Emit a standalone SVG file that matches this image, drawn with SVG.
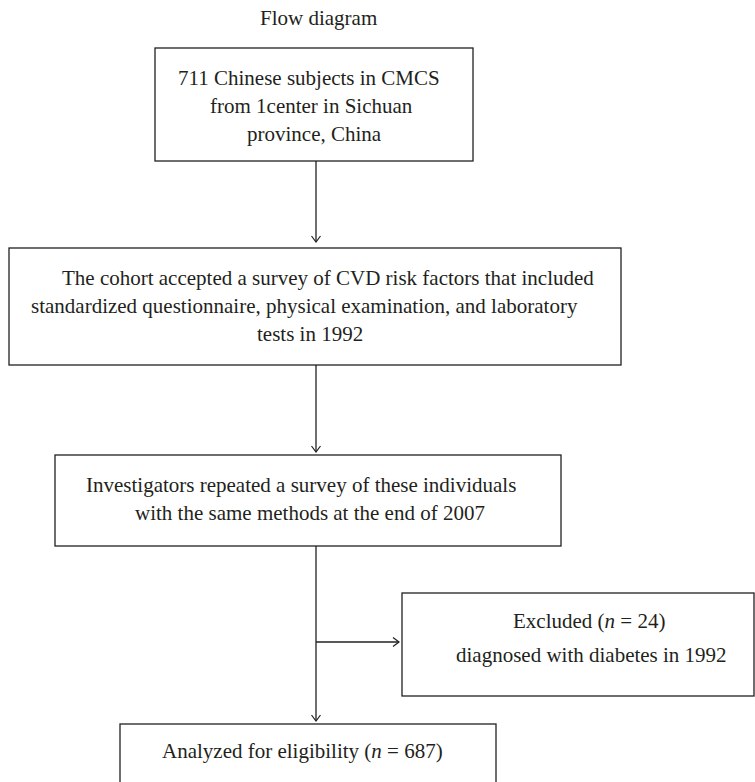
<svg xmlns="http://www.w3.org/2000/svg" width="755" height="782" viewBox="0 0 755 782">
<style>
.box { fill: #ffffff; stroke: #231f20; stroke-width: 1.3; }
.t { font-family: "Liberation Serif", "Times New Roman", serif; font-size: 21px; fill: #231f20; }
.c { stroke: #231f20; stroke-width: 1.3; fill: none; marker-end: url(#ah); }
</style>
<defs>
<marker id="ah" viewBox="0 0 10 10" refX="7" refY="5" markerWidth="10" markerHeight="10" markerUnits="userSpaceOnUse" orient="auto">
<path d="M1,0.5 L7,5 L1,9.5" fill="none" stroke="#231f20" stroke-width="1.2"/>
</marker>
</defs>
<rect width="755" height="782" fill="#ffffff"/>
<text class="t" x="260" y="25">Flow diagram</text>
<g id="connectors">
<path class="c" d="M316,161 V242"/>
<path class="c" d="M316,365 V452"/>
<path class="c" d="M316,546 V721"/>
<path class="c" d="M316,642 H399"/>
</g>
<g id="n1">
<rect class="box" x="155" y="48" width="318" height="113"/>
<text class="t" x="178" y="85">711 Chinese subjects in CMCS</text>
<text class="t" x="210" y="113">from 1center in Sichuan</text>
<text class="t" x="247" y="141">province, China</text>
</g>
<g id="n2">
<rect class="box" x="9" y="248" width="612" height="117"/>
<text class="t" x="62" y="285">The cohort accepted a survey of CVD risk factors that included</text>
<text class="t" x="31" y="313">standardized questionnaire, physical examination, and laboratory</text>
<text class="t" x="257" y="341">tests in 1992</text>
</g>
<g id="n3">
<rect class="box" x="55" y="455" width="506" height="91"/>
<text class="t" x="86" y="492">Investigators repeated a survey of these individuals</text>
<text class="t" x="135" y="520">with the same methods at the end of 2007</text>
</g>
<g id="n4">
<rect class="box" x="402" y="593" width="352" height="103"/>
<text class="t" x="513" y="628">Excluded (<tspan font-style="italic">n</tspan> = 24)</text>
<text class="t" x="456" y="662">diagnosed with diabetes in 1992</text>
</g>
<g id="n5">
<rect class="box" x="120" y="724" width="376" height="70"/>
<text class="t" x="162" y="758">Analyzed for eligibility (<tspan font-style="italic">n</tspan> = 687)</text>
</g>
</svg>
